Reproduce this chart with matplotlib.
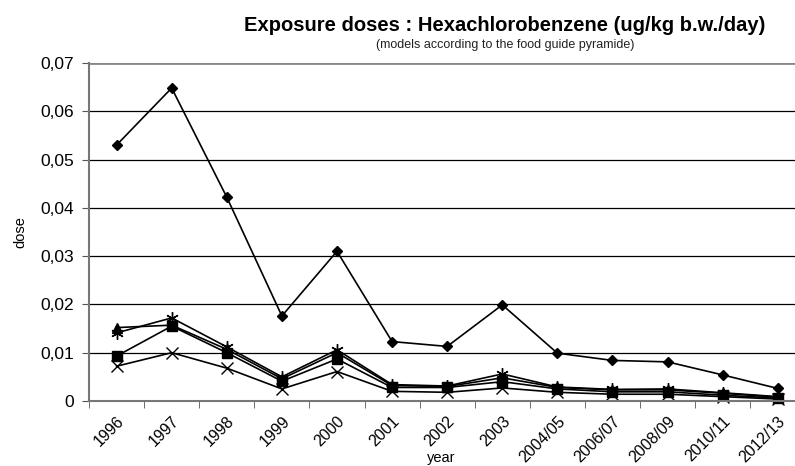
import matplotlib.pyplot as plt
import numpy as np

plt.rcParams["font.family"] = ["Liberation Sans", "DejaVu Sans"]

years = ["1996", "1997", "1998", "1999", "2000", "2001", "2002", "2003",
         "2004/05", "2006/07", "2008/09", "2010/11", "2012/13"]

# five dietary models
diamond = [0.0530, 0.0648, 0.0422, 0.0176, 0.0310, 0.0123, 0.0113, 0.0199,
           0.0099, 0.0084, 0.0081, 0.0054, 0.0026]
triangle = [0.0152, 0.0157, 0.0107, 0.0046, 0.0100, 0.0032, 0.0030, 0.0048,
            0.0028, 0.0023, 0.0023, 0.0016, 0.0008]
star = [0.0141, 0.0172, 0.0112, 0.0050, 0.0106, 0.0034, 0.0031, 0.0056,
        0.0029, 0.0024, 0.0025, 0.0017, 0.0009]
square = [0.0093, 0.0155, 0.0100, 0.0041, 0.0087, 0.0028, 0.0028, 0.0040,
          0.0025, 0.0019, 0.0019, 0.0012, 0.0006]
cross = [0.0072, 0.0100, 0.0068, 0.0025, 0.0061, 0.0020, 0.0018, 0.0027,
         0.0018, 0.0014, 0.0014, 0.0009, 0.0004]

fig = plt.figure(figsize=(7.95, 4.66), dpi=100)
ax = fig.add_axes([0.112, 0.1395, 0.901, 0.7255])

x = np.arange(len(years))
for vals, m, ms in [(cross, "x", 8), (square, "s", 7), (triangle, "^", 7),
                    (star, (6, 2, 0), 9), (diamond, "D", 5.5)]:
    ax.plot(x, vals, color="black", linewidth=1.2, marker=m, markersize=ms,
            markeredgewidth=1.0, markerfacecolor="black", clip_on=False)

ax.set_xlim(-0.5, len(years) - 0.5)
ax.set_ylim(0, 0.07)
ax.set_yticks(np.arange(0, 0.071, 0.01))
ax.set_yticklabels(["0", "0,01", "0,02", "0,03", "0,04", "0,05", "0,06", "0,07"],
                   fontsize=12.5)
ax.set_xticks(x)
ax.set_xticklabels(years, rotation=45, ha="right", rotation_mode="anchor",
                   fontsize=11.5)
ax.set_xticks(np.arange(-0.5, len(years), 1), minor=True)
ax.tick_params(axis="x", which="major", length=0, pad=9)
ax.tick_params(axis="x", which="minor", length=5, color="#555555")
ax.tick_params(axis="y", length=5, color="#555555", pad=6)

for v in np.arange(0.01, 0.065, 0.01):
    ax.axhline(v, color="black", linewidth=0.9, zorder=0)
ax.axhline(0.07, color="#888888", linewidth=2, zorder=0)

for s in ["top", "right"]:
    ax.spines[s].set_visible(False)
ax.spines["left"].set_color("#777777")
ax.spines["left"].set_linewidth(1.5)
ax.spines["bottom"].set_color("#777777")
ax.spines["bottom"].set_linewidth(1.5)

ax.set_ylabel("dose", fontsize=10.5, labelpad=9)

# x label sits at the very bottom edge, as in the source
fig.text(0.555, 0.003, "year", ha="center", va="bottom", fontsize=10.5)

fig.text(0.635, 0.945, "Exposure doses : Hexachlorobenzene (ug/kg b.w./day)",
         ha="center", va="center", fontsize=14.5, weight="bold")
fig.text(0.635, 0.903, "(models according to the food guide pyramide)",
         ha="center", va="center", fontsize=9, color="#222222")

fig.savefig("out.png", dpi=100)
